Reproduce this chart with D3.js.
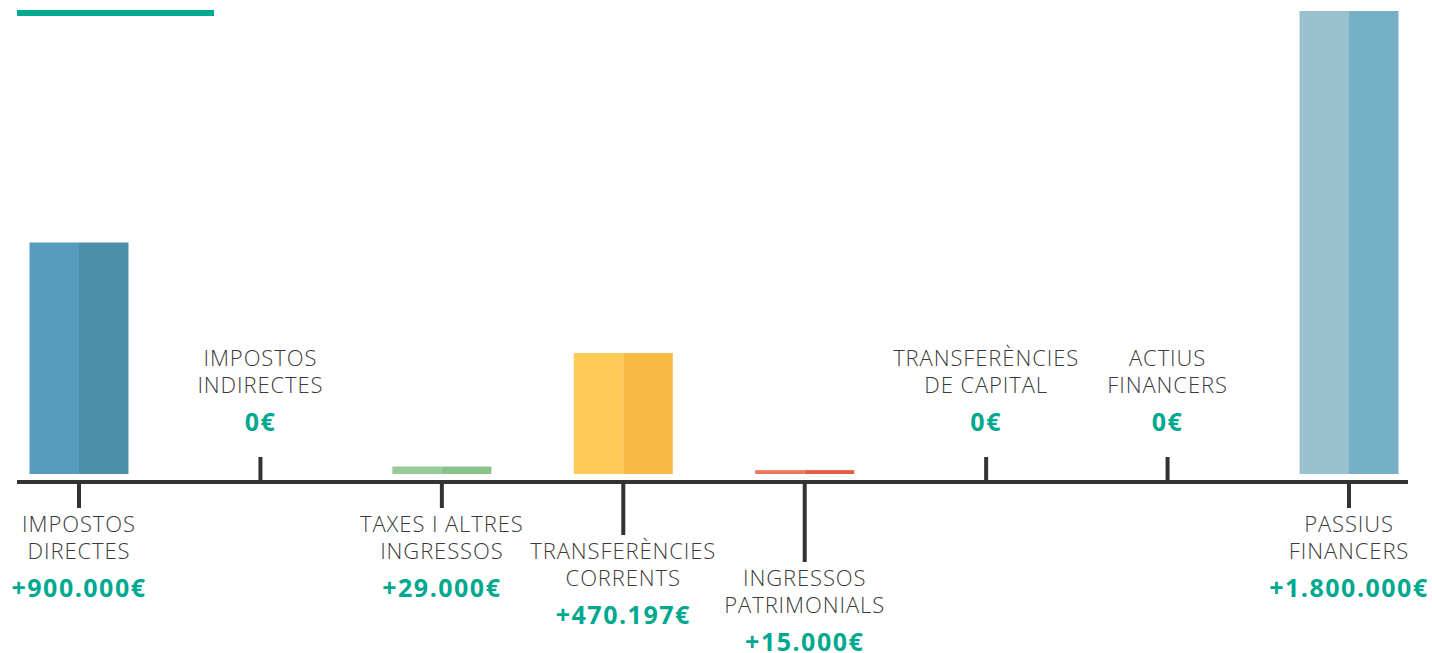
<!DOCTYPE html>
<html lang="ca">
    <head>
        <meta charset="utf-8">
        <script type="text/javascript" src="https://cdn.jsdelivr.net/npm/d3@7"></script>
        <title>Ingressos</title>
        <style type="text/css">
            body { margin: 0; background: #fff; }
            svg { display: block; }
        </style>
    </head>
    <body>
        <script type="text/javascript">
            var w = 1432;
            var h = 653;

            // data
            var categories = [
                ["IMPOSTOS", "DIRECTES"],
                ["IMPOSTOS", "INDIRECTES"],
                ["TAXES I ALTRES", "INGRESSOS"],
                ["TRANSFERÈNCIES", "CORRENTS"],
                ["INGRESSOS", "PATRIMONIALS"],
                ["TRANSFERÈNCIES", "DE CAPITAL"],
                ["ACTIUS", "FINANCERS"],
                ["PASSIUS", "FINANCERS"]
            ];
            var values = [900000, 0, 29000, 470197, 15000, 0, 0, 1800000];
            var colorsLeft  = ["#569cbc", "#98ca97", "#98ca97", "#fecb58", "#ed775c", "#99c1ce", "#99c1ce", "#99c1ce"];
            var colorsRight = ["#4e90ab", "#88c48a", "#88c48a", "#fab845", "#e85c42", "#76b0c6", "#76b0c6", "#76b0c6"];

            var baseY = 482;
            var barW = 99;

            var xScale = d3.scalePoint()
                            .domain(d3.range(categories.length))
                            .range([79, 1349]);

            var yScale = d3.scaleLinear()
                            .domain([0, d3.max(values)])
                            .range([474, 11]);

            // stagger labels below the axis: bump down when previous label is also below
            var levels = [];
            values.forEach(function(v, i){
                if (v === 0) { levels.push(-1); return; }
                var prev = i > 0 ? levels[i-1] : -1;
                levels.push(prev >= 0 ? prev + 1 : 0);
            });

            var fmt = d3.formatLocale({decimal: ",", thousands: ".", grouping: [3], currency: ["", "€"]}).format(",.0f");
            function valueText(v){
                return v === 0 ? "0€" : "+" + fmt(v) + "€";
            }

            var svg = d3.select("body")
                        .append("svg")
                        .attr("width", w)
                        .attr("height", h);

            // green accent at top left
            svg.append("rect")
                .attr("x", 17).attr("y", 10)
                .attr("width", 197).attr("height", 6)
                .attr("fill", "#00a88f");

            var g = svg.selectAll("g.cat")
                .data(values)
                .enter()
                .append("g")
                .attr("class", "cat");

            // bars, two tone halves
            g.each(function(d,i){
                if (d <= 0) return;
                var sel = d3.select(this);
                sel.append("rect")
                    .attr("x", xScale(i) - barW/2)
                    .attr("y", yScale(d))
                    .attr("width", barW/2)
                    .attr("height", yScale(0) - yScale(d))
                    .attr("fill", colorsLeft[i]);
                sel.append("rect")
                    .attr("x", xScale(i))
                    .attr("y", yScale(d))
                    .attr("width", barW/2)
                    .attr("height", yScale(0) - yScale(d))
                    .attr("fill", colorsRight[i]);
            });

            // baseline
            svg.append("line")
                .attr("x1", 17).attr("x2", 1408)
                .attr("y1", baseY).attr("y2", baseY)
                .attr("stroke", "#333")
                .attr("stroke-width", 4);

            // ticks
            g.append("line")
                .attr("x1", function(d,i){ return xScale(i); })
                .attr("x2", function(d,i){ return xScale(i); })
                .attr("y1", baseY)
                .attr("y2", function(d,i){
                    return levels[i] < 0 ? baseY - 25 : baseY + 26 + 27 * levels[i];
                })
                .attr("stroke", "#333")
                .attr("stroke-width", 4);

            // labels
            function labelTop(i){
                return levels[i] < 0 ? 366 : 532 + 27 * levels[i];
            }

            g.each(function(d,i){
                var sel = d3.select(this);
                categories[i].forEach(function(line, k){
                    sel.append("text")
                        .attr("x", xScale(i))
                        .attr("y", labelTop(i) + 27 * k)
                        .attr("text-anchor", "middle")
                        .attr("font-family", "'Open Sans', sans-serif")
                        .attr("font-weight", 300)
                        .attr("font-size", "22px")
                        .attr("letter-spacing", "0.9px")
                        .attr("fill", "#3a3a3a")
                        .text(line);
                });
                sel.append("text")
                    .attr("x", xScale(i))
                    .attr("y", labelTop(i) + 65)
                    .attr("text-anchor", "middle")
                    .attr("font-family", "'Open Sans', sans-serif")
                    .attr("font-weight", 700)
                    .attr("font-size", "25px")
                    .attr("letter-spacing", "1.5px")
                    .attr("fill", "#00a88f")
                    .text(valueText(d));
            });
        </script>
    </body>
</html>
